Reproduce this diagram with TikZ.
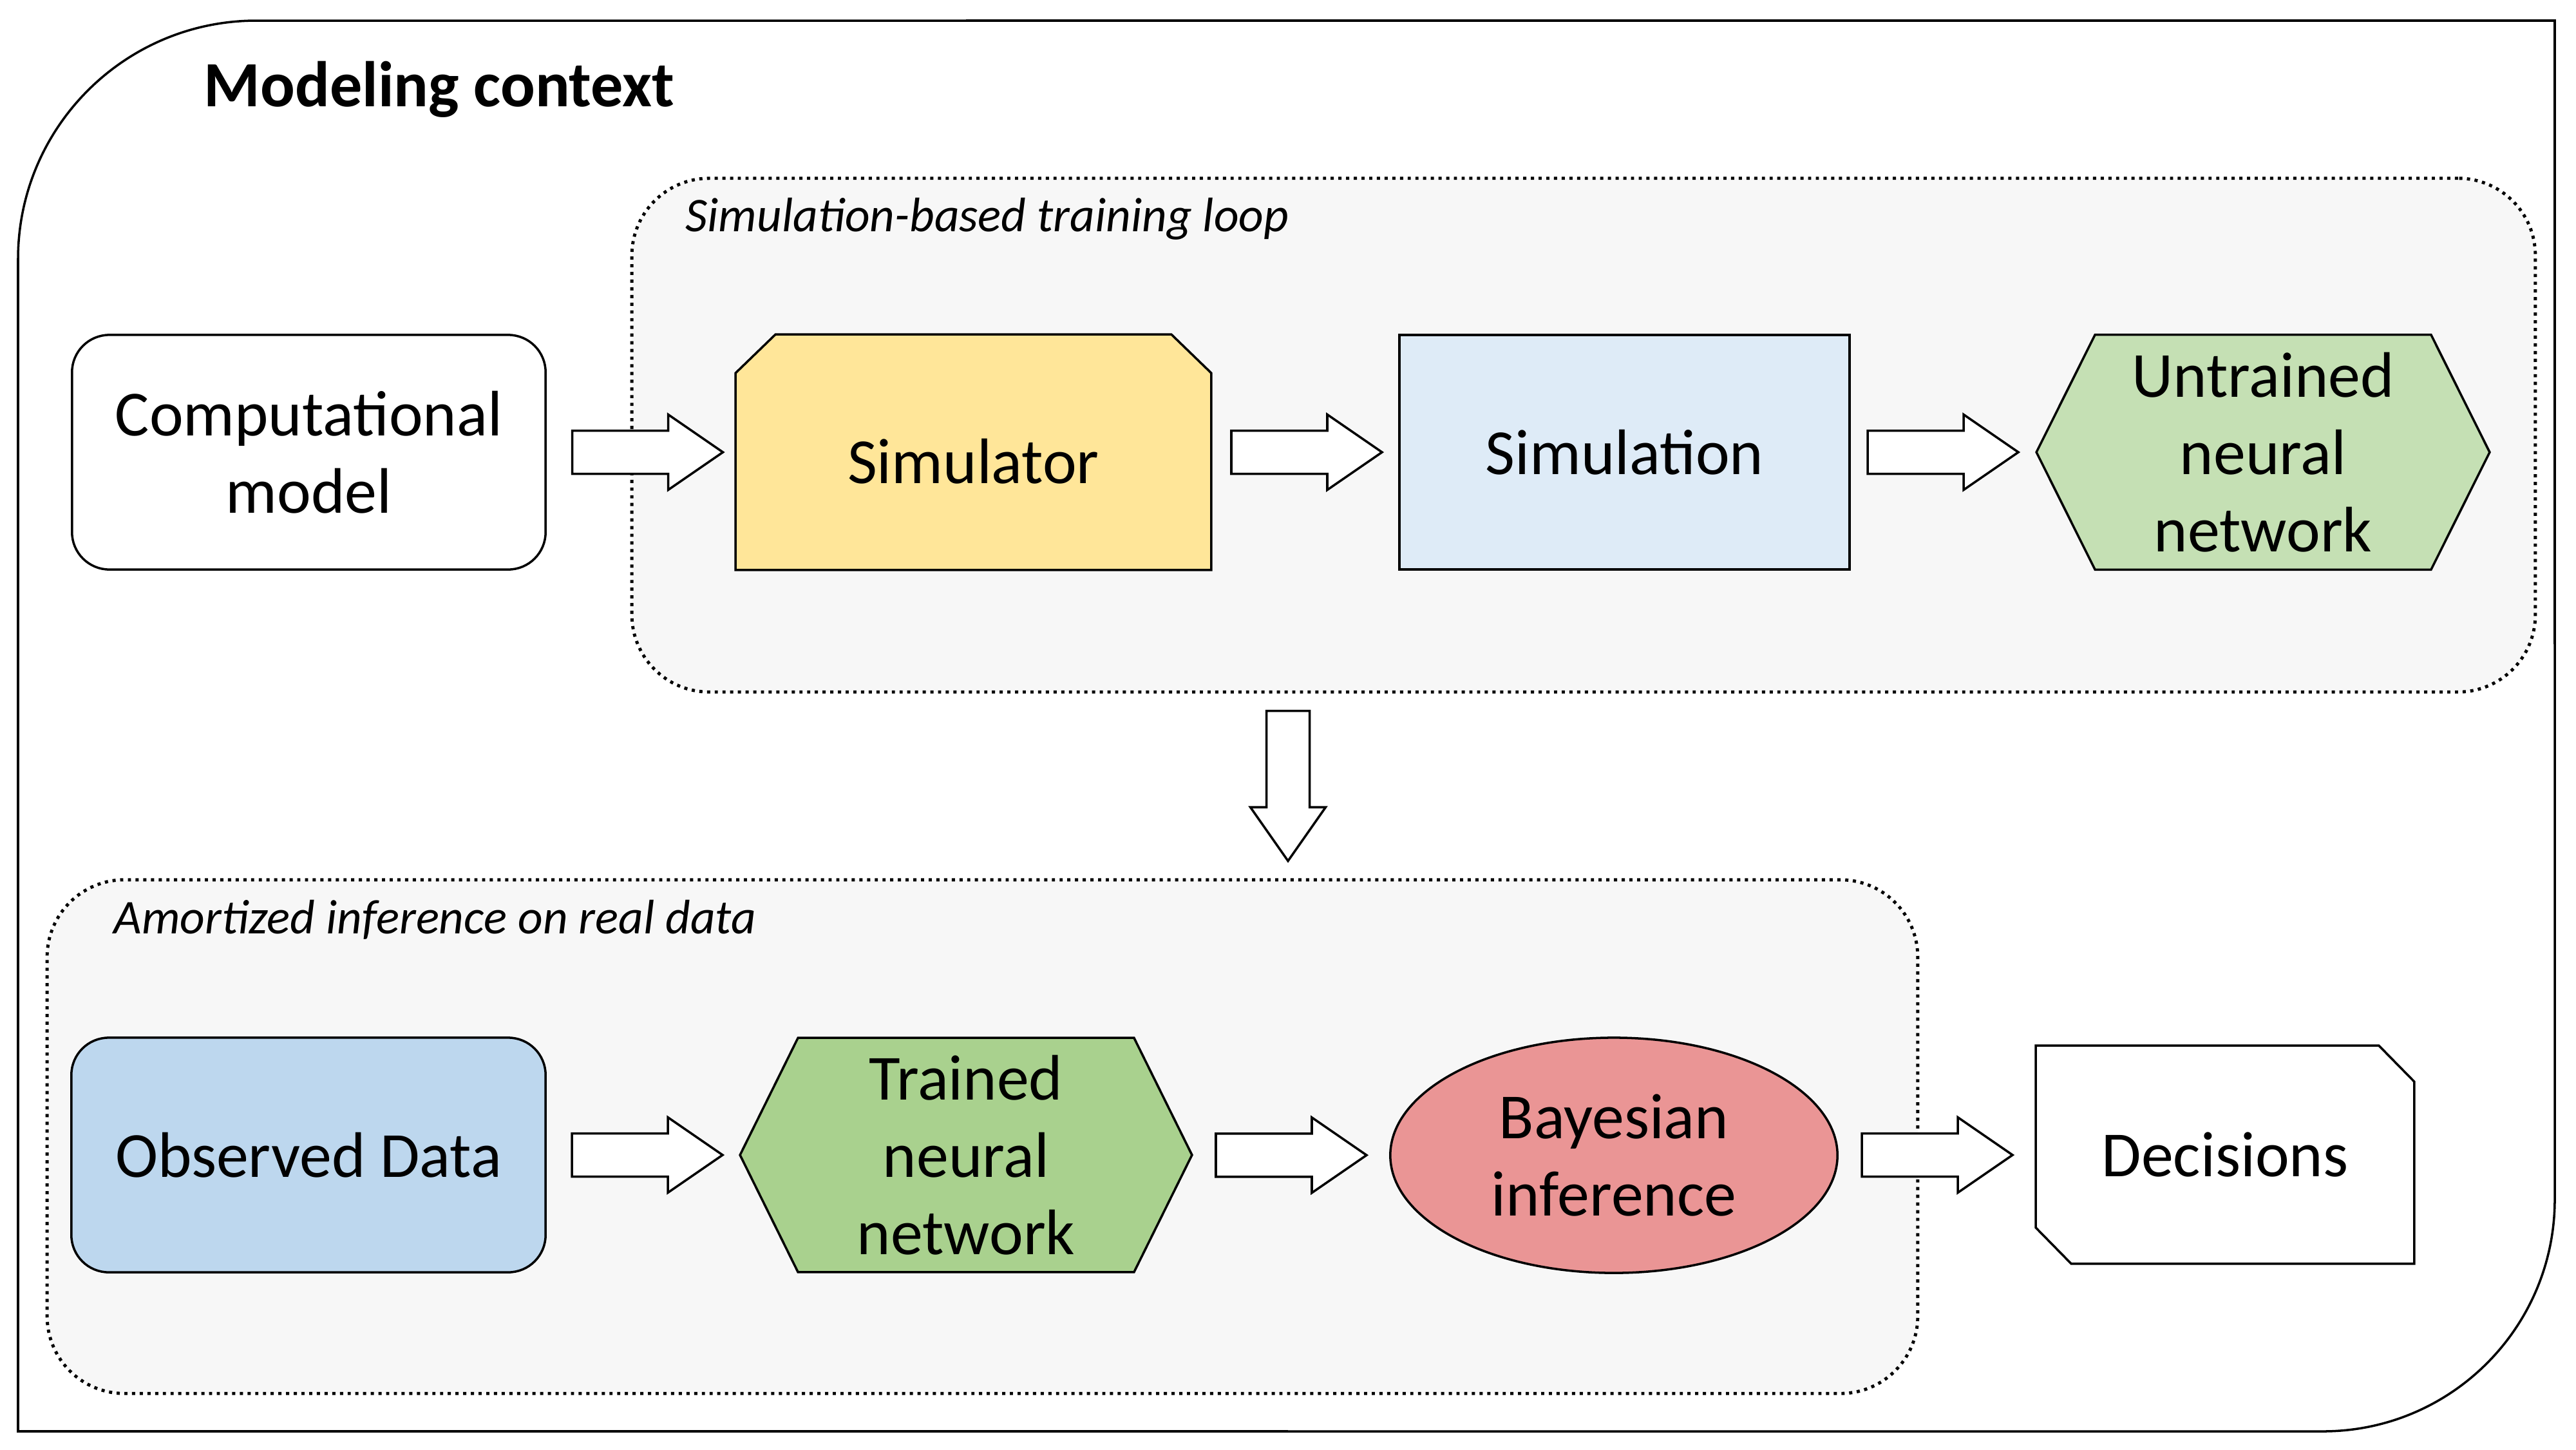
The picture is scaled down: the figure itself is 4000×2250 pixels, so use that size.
\documentclass[tikz,border=0pt]{standalone}
\usepackage{fontspec}
\setmainfont{Carlito}
\usetikzlibrary{calc,shapes.geometric}
\definecolor{simyel}{HTML}{FFE699}
\definecolor{simblue}{HTML}{DEEBF7}
\definecolor{ungreen}{HTML}{C5E0B4}
\definecolor{obsblue}{HTML}{BDD7EE}
\definecolor{trgreen}{HTML}{A9D18E}
\definecolor{bayred}{HTML}{EA9595}
\definecolor{groupfill}{HTML}{F7F7F7}
\pgfdeclarelayer{bg}
\pgfdeclarelayer{shp}
\pgfsetlayers{bg,shp,main}
\newcommand\nodefont{\fontsize{28.4}{34.1}\selectfont}
\newcommand\hbarrow[3]{%
  \coordinate (am) at ($(#1.east)!.5!(#2.west)$);
  \draw[barrow] ($(am)+(#3-117,-33.5)$) -- ($(am)+(#3+32,-33.5)$) -- ($(am)+(#3+32,-58.5)$) -- ($(am)+(#3+117,0)$) -- ($(am)+(#3+32,58.5)$) -- ($(am)+(#3+32,33.5)$) -- ($(am)+(#3-117,33.5)$) -- cycle;}
\tikzset{
  ln/.style={line width=1pt},
  nodebox/.style={ln, draw=black, font=\nodefont, align=center, inner sep=0pt},
  textonly/.style={font=\nodefont, align=center, inner sep=0pt},
  barrow/.style={ln, draw=black, fill=white, line join=miter},
  group/.style={draw=black, line width=1.4pt, dash pattern=on 1.4pt off 2pt, fill=groupfill, rounded corners=1.2cm, inner sep=0pt},
  grouplabel/.style={font=\itshape\fontsize{21.4}{25}\selectfont, anchor=base west, inner sep=0pt},
  shapeline/.style={ln, draw=black},
}
\begin{document}
\begin{tikzpicture}[x=0.01cm, y=-0.01cm]
\useasboundingbox (0,0) rectangle (4000,2250);

% outer frame
\draw[ln, rounded corners=3.7cm] (1500,32) -- (28,32) -- (28,1200);
\draw[ln] (28,1200) -- (28,2222) -- (2000,2222);
\draw[ln, rounded corners=3.6cm] (2000,2222) -- (3967,2222) -- (3967,1000);
\draw[ln] (3967,1000) -- (3967,32) -- (1500,32);

\node[anchor=base west, font=\bfseries\fontsize{28.5}{34}\selectfont, inner sep=0pt] (title) at (316,165) {Modeling context};

% group boxes
\begin{pgfonlayer}{bg}
\node[group, minimum width=29.54cm, minimum height=7.97cm] (loop) at (2459,675.5) {};
\node[group, minimum width=29.03cm, minimum height=7.97cm] (amort) at (1525.5,1764.5) {};
\end{pgfonlayer}
\node[grouplabel] (looplabel) at (1064,359) {Simulation-based training loop};
\node[grouplabel] (amortlabel) at (176,1449) {Amortized inference on real data};

% top row
\node[nodebox, fill=white, rounded corners=0.58cm, minimum width=7.35cm, minimum height=3.64cm] (comp) at (479.5,702) {Computational\\model};
\node[textonly, minimum width=7.37cm, minimum height=3.64cm, text height=0.97cm, text depth=0pt] (sim) at (1511.5,702) {Simulator};
\node[nodebox, fill=simblue, minimum width=6.99cm, minimum height=3.64cm] (simu) at (2522.5,702) {Simulation};
\node[textonly, minimum width=7.02cm, minimum height=3.63cm] (un) at (3514,702) {Untrained\\neural\\network};

% bottom row
\node[nodebox, fill=obsblue, rounded corners=0.58cm, minimum width=7.36cm, minimum height=3.64cm] (obs) at (479,1793) {Observed Data};
\node[textonly, minimum width=7.00cm, minimum height=3.62cm] (tr) at (1500,1793) {Trained\\neural\\network};
\node[nodebox, ellipse, fill=bayred, minimum width=6.94cm, minimum height=3.65cm] (bay) at (2506,1793.5) {Bayesian\\inference};
\node[textonly, minimum width=5.86cm, minimum height=3.37cm] (dec) at (3455,1792.5) {Decisions};

\begin{pgfonlayer}{shp}
\draw[shapeline, fill=simyel] (sim.south west) -- ($(sim.north west)+(0,60)$) -- ($(sim.north west)+(62,0)$) -- ($(sim.north east)+(-62,0)$) -- ($(sim.north east)+(0,60)$) -- (sim.south east) -- cycle;
\draw[shapeline, fill=ungreen] (un.west) -- ($(un.north west)+(91,0)$) -- ($(un.north east)+(-91,0)$) -- (un.east) -- ($(un.south east)+(-91,0)$) -- ($(un.south west)+(91,0)$) -- cycle;
\draw[shapeline, fill=trgreen] (tr.west) -- ($(tr.north west)+(90,0)$) -- ($(tr.north east)+(-90,0)$) -- (tr.east) -- ($(tr.south east)+(-90,0)$) -- ($(tr.south west)+(90,0)$) -- cycle;
\draw[shapeline, fill=white] (dec.north west) -- ($(dec.north east)+(-55,0)$) -- ($(dec.north east)+(0,56)$) -- (dec.south east) -- ($(dec.south west)+(55,0)$) -- ($(dec.south west)+(0,-56)$) -- cycle;
\end{pgfonlayer}

% block arrows
\hbarrow{comp}{sim}{10}
\hbarrow{sim}{simu}{3}
\hbarrow{simu}{un}{-1}
\hbarrow{obs}{tr}{6}
\hbarrow{tr}{bay}{1}
\hbarrow{bay}{dec}{0}

\coordinate (dx) at (2000,0);
\coordinate (dm) at ($(dx |- loop.south)!.5!(dx |- amort.north)$);
\draw[barrow] ($(dm)+(-33.5,-116.5)$) -- ($(dm)+(33.5,-116.5)$) -- ($(dm)+(33.5,33)$) -- ($(dm)+(58.5,33)$) -- ($(dm)+(0,116.5)$) -- ($(dm)+(-58.5,33)$) -- ($(dm)+(-33.5,33)$) -- cycle;
\end{tikzpicture}
\end{document}
